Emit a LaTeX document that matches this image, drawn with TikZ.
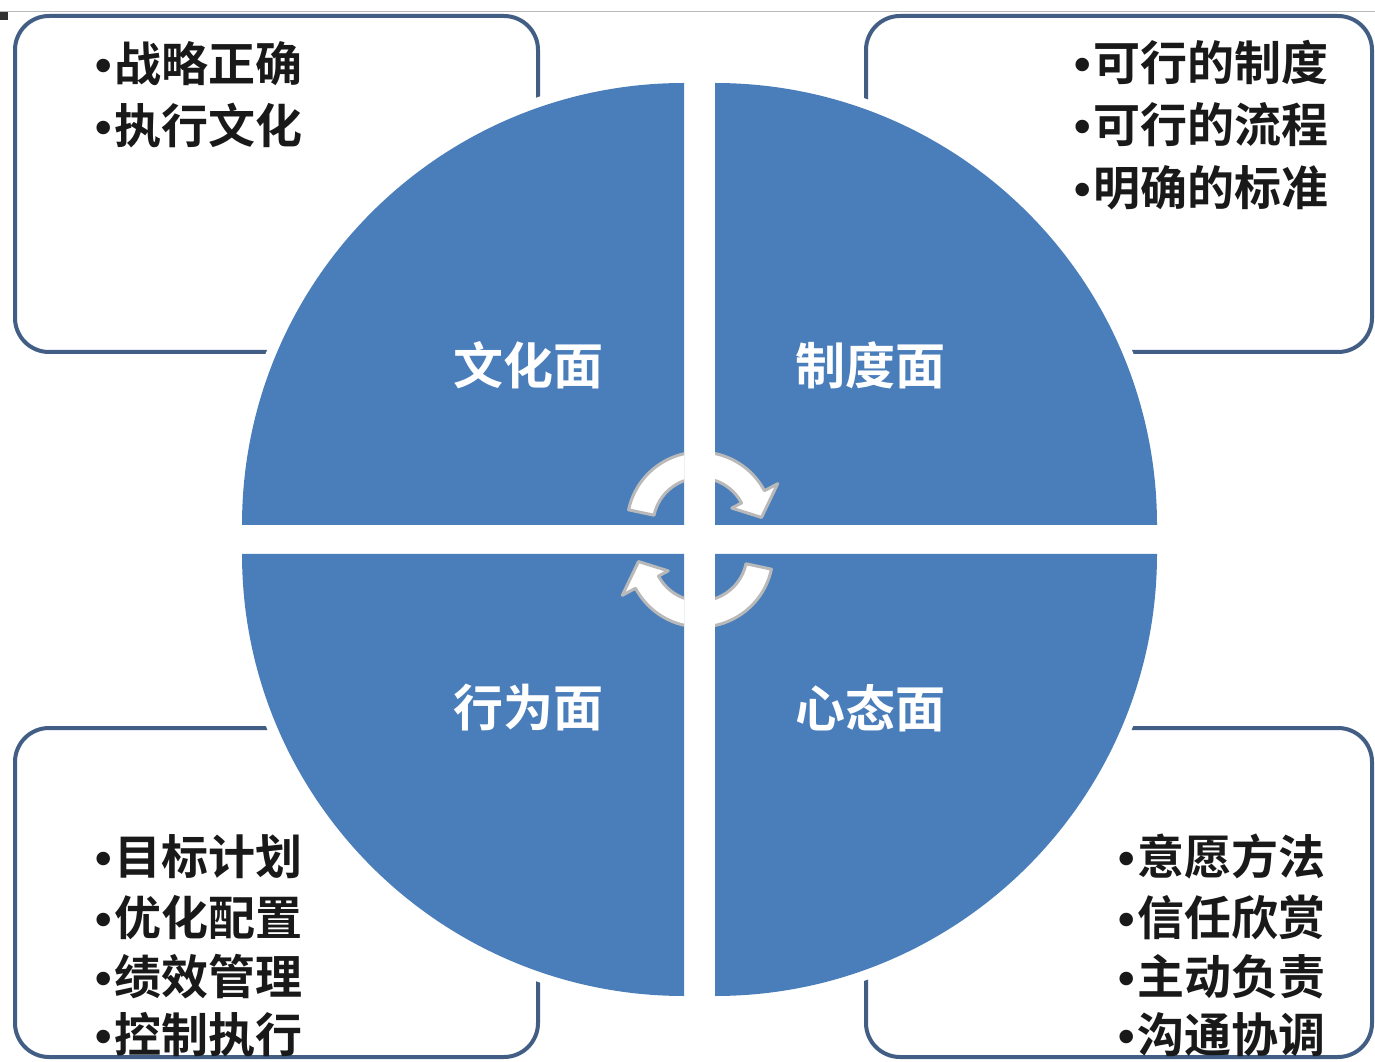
\documentclass[tikz,border=0pt]{standalone}
\usepackage{fontspec}
\newfontfamily\cjk{Noto Sans CJK SC}[BoldFont={Noto Sans CJK SC Bold}]
\newfontfamily\latinb{Liberation Sans}
\newcommand\bul{{\latinb\bfseries •}\hspace{1.5pt}}
\usetikzlibrary{calc}
\definecolor{qblue}{RGB}{74,126,187}
\definecolor{boxline}{RGB}{66,94,132}
\definecolor{arrline}{RGB}{185,185,185}
\begin{document}
\begin{tikzpicture}[x=0.5pt,y=0.5pt,
  quad/.style={fill=qblue},
  halo/.style={draw=white,line width=10pt,line join=round},
  infobox/.style={draw=boxline,line width=2pt,rounded corners=17pt,fill=white},
  face/.style={text=white,font=\cjk\bfseries\fontsize{25}{25}\selectfont,inner sep=0pt},
  item/.style={text=black!90,font=\cjk\bfseries\fontsize{23.5}{23.5}\selectfont,anchor=west,inner sep=0pt},
  cyc/.style={fill=white,draw=arrline,line width=1.5pt,line join=round}]
\useasboundingbox (0,0) rectangle (1375,1061);
\fill[white] (0,0) rectangle (1375,1061);
\draw[gray!55,line width=0.5pt] (0,1049) -- (1375,1049);
\fill[black!80] (0,1041) rectangle (8,1049);
% boxes
\draw[infobox] (15,709) rectangle (538,1045);
\draw[infobox] (866,709) rectangle (1372,1045);
\draw[infobox] (15,4) rectangle (538,333);
\draw[infobox] (866,4) rectangle (1372,333);
% halos
\path[halo] (684,536) -- (242,536) arc[start angle=180,end angle=90,radius=442] -- cycle;
\path[halo] (715,536) -- (715,978) arc[start angle=90,end angle=0,radius=442] -- cycle;
\path[halo] (684,507) -- (684,65) arc[start angle=270,end angle=180,radius=442] -- cycle;
\path[halo] (715,507) -- (1157,507) arc[start angle=0,end angle=-90,radius=442] -- cycle;
% quadrants
\fill[quad] (684,536) -- (242,536) arc[start angle=180,end angle=90,radius=442] -- cycle;
\fill[quad] (715,536) -- (715,978) arc[start angle=90,end angle=0,radius=442] -- cycle;
\fill[quad] (684,507) -- (684,65) arc[start angle=270,end angle=180,radius=442] -- cycle;
\fill[quad] (715,507) -- (1157,507) arc[start angle=0,end angle=-90,radius=442] -- cycle;
% cycle arrows
\coordinate (c1) at (700,536);
\coordinate (c2) at (700,507);
\begin{scope}
\clip (0,536) rectangle (684,1061) (715,536) rectangle (1375,1061)
      (0,0) rectangle (684,507) (715,0) rectangle (1375,507);
\draw[cyc] ($(c1)+(168:73)$) arc[start angle=168,end angle=28,radius=73]
  -- ($(c1)+(28:88)$) -- ($(c1)+(7:62)$) -- ($(c1)+(28:36)$)
  -- ($(c1)+(28:47)$) arc[start angle=28,end angle=168,radius=47] -- cycle;
\draw[cyc] ($(c2)+(-12:73)$) arc[start angle=-12,end angle=-152,radius=73]
  -- ($(c2)+(-152:88)$) -- ($(c2)+(-173:62)$) -- ($(c2)+(-152:36)$)
  -- ($(c2)+(-152:47)$) arc[start angle=-152,end angle=-12,radius=47] -- cycle;
\end{scope}
% quadrant labels
\node[face] (wenhua) at (528,696) {文化面};
\node[face] (zhidu) at (870,696) {制度面};
\node[face] (xingwei) at (528,353) {行为面};
\node[face] (xintai) at (870,353) {心态面};
% items
\node[item] (a1) at (95,997) {\bul 战略正确};
\node[item] (a2) at (95,935) {\bul 执行文化};
\node[item] (b1) at (1074,998) {\bul 可行的制度};
\node[item] (b2) at (1074,936) {\bul 可行的流程};
\node[item] (b3) at (1074,873) {\bul 明确的标准};
\node[item] (c1t) at (95,204) {\bul 目标计划};
\node[item] (c2t) at (95,143) {\bul 优化配置};
\node[item] (c3t) at (95,84) {\bul 绩效管理};
\node[item] (c4t) at (95,26) {\bul 控制执行};
\node[item] (d1) at (1118,204) {\bul 意愿方法};
\node[item] (d2) at (1118,143) {\bul 信任欣赏};
\node[item] (d3) at (1118,84) {\bul 主动负责};
\node[item] (d4) at (1118,26) {\bul 沟通协调};
\end{tikzpicture}
\end{document}
